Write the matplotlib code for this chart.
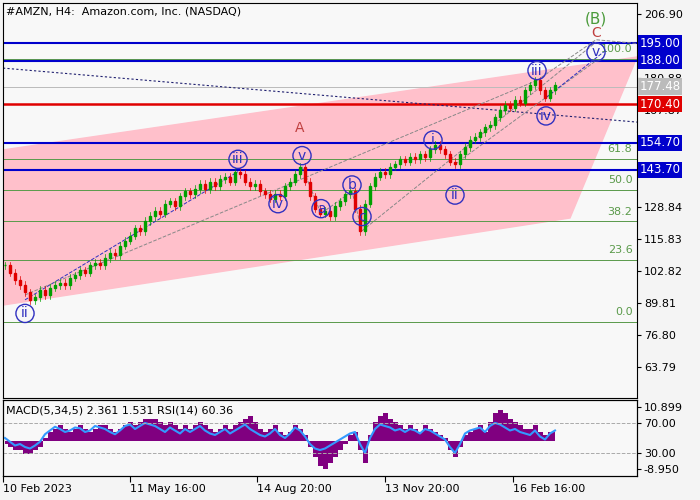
import matplotlib.pyplot as plt
from matplotlib.patches import Polygon, Rectangle

closes = [105, 102, 99, 97, 94, 91, 92, 95, 93, 96, 97, 98, 97, 100, 101, 103, 102, 105, 106, 105,
          108, 110, 109, 113, 115, 117, 120, 119, 123, 125, 127, 126, 130, 131, 129, 133, 135, 134, 136, 138,
          136, 139, 137, 140, 141, 139, 143, 142, 139, 137, 138, 135, 134, 132, 134, 133, 137, 139, 142, 145,
          139, 133, 128, 126, 127, 125, 129, 131, 134, 135, 128, 119, 130, 137, 141, 143, 142, 145, 146, 148,
          147, 149, 148, 150, 149, 152, 154, 152, 150, 147, 146, 150, 153, 156, 157, 159, 161, 162, 165, 168,
          170, 169, 172, 171, 176, 178, 180, 176, 173, 176, 178]
macd = [-1, -2, -3, -3, -4, -4, -3, -2, 1, 3, 4, 5, 4, 3, 4, 5, 4, 3, 4, 5,
        5, 4, 3, 4, 5, 6, 5, 6, 7, 7, 7, 6, 5, 6, 5, 4, 5, 4, 5, 6,
        5, 4, 3, 4, 5, 4, 5, 6, 7, 8, 6, 4, 3, 4, 5, 3, 2, 3, 5, 4,
        2, -2, -5, -8, -9, -7, -5, -3, -1, 2, 3, -3, -7, 2, 6, 8, 9, 7, 6, 5,
        4, 5, 4, 3, 5, 4, 3, 2, 1, -3, -5, -2, 2, 3, 4, 5, 3, 6, 9, 10,
        9, 7, 6, 5, 4, 4, 5, 3, 2, 3, 3]
rsi = [50, 45, 40, 42, 38, 36, 40, 45, 55, 60, 65, 62, 58, 60, 64, 63, 58, 60, 66, 64,
       62, 58, 55, 60, 66, 68, 62, 66, 70, 68, 66, 62, 58, 64, 60, 56, 62, 58, 62, 66,
       60, 56, 54, 58, 62, 56, 60, 64, 68, 62, 58, 54, 52, 56, 62, 54, 50, 56, 64, 60,
       52, 42, 36, 34, 36, 40, 44, 48, 52, 56, 58, 42, 30, 50, 62, 68, 66, 64, 60, 62,
       58, 62, 60, 56, 62, 60, 56, 52, 48, 38, 30, 42, 56, 60, 62, 64, 58, 66, 70, 68,
       64, 60, 62, 58, 56, 54, 60, 52, 48, 56, 60]

blue_levels = [195.00, 188.00, 154.70, 143.70]
red_level = 170.40
last_price = 177.48
fib_pct = [0.0, 23.6, 38.2, 50.0, 61.8, 100.0]
fib_lo, fib_hi = 82.0, 188.8
price_ticks = [206.90, 193.88, 180.88, 167.87, 154.86, 141.85, 128.84, 115.83, 102.82, 89.81, 76.80, 63.79]
date_pos = [-0.4, 25, 50.4, 76, 101.6]
date_labels = ['10 Feb 2023', '11 May 16:00', '14 Aug 20:00', '13 Nov 20:00', '16 Feb 16:00']

# wave labels: (x index, price, text)
waves = [(4, 85.5, 'ii'), (46.6, 148, 'iii'), (54.6, 130, 'iv'), (59.4, 149.5, 'v'),
         (63.2, 128, 'a'), (69.4, 137.6, 'b'), (71.4, 124.8, 'c'), (85.6, 155.8, 'i'),
         (90, 133.5, 'ii'), (106.4, 184.0, 'iii'), (108.2, 165.6, 'iv'), (118.2, 191.5, 'v')]

fig = plt.figure(figsize=(7, 5), dpi=100, facecolor='#f4f4f4')
ax = fig.add_axes([3/700, 1-398/500, 634/700, 395/500], facecolor='#f8f8f8')
ax.set_xlim(-0.4, 126.4)
ax.set_ylim(51.2, 211.4)

ax.add_patch(Polygon([(-0.4, 151.8), (126.4, 189.5), (113, 124.2), (-0.4, 88.9)],
                     closed=True, color='#ffc0cb', zorder=0))

for p in fib_pct:
    v = fib_lo + (fib_hi - fib_lo) * p / 100
    ax.axhline(v, color='#5a9a4a', lw=0.7, zorder=1)
    ax.text(125.5, v + 2, f'{p:.1f}', color='#5a9a4a', fontsize=8, ha='right', va='bottom')
for v in blue_levels:
    ax.axhline(v, color='#0000cc', lw=1.5, zorder=2)
ax.axhline(red_level, color='#e00000', lw=1.8, zorder=2)
ax.axhline(last_price, color='#bbbbbb', lw=0.7, zorder=2)

# trend / wave lines
ax.plot([-0.4, 126.4], [185.0, 163.1], color='#202070', ls=(0, (2, 2)), lw=0.8)
ax.plot([4, 46.6], [91, 143], color='#3030c0', ls='--', lw=0.7)
ax.plot([4, 106.4], [93, 180], color='#888888', ls='--', lw=0.7)
ax.plot([71.4, 118.2], [119, 195.5], color='#888888', ls='--', lw=0.7)
ax.plot([90, 118.2], [146, 188], color='#888888', ls='--', lw=0.7)
ax.plot([108.2, 120], [173, 192], color='#3030c0', ls='--', lw=0.7)
ax.plot([106.4, 118.2, 126.4], [180, 196.5, 195], color='#888888', ls='--', lw=0.7)
ax.plot([59.4, 63.2, 69.4, 71.4], [145, 126, 135, 119], color='#888888', ls='--', lw=0.7)

for i, c in enumerate(closes):
    o = closes[i-1] if i > 0 else c
    col = '#00a000' if c >= o else '#e00000'
    ax.plot([i, i], [min(o, c) - 1.5, max(o, c) + 1.5], color=col, lw=0.5, zorder=3)
    ax.add_patch(Rectangle((i - 0.2, min(o, c)), 0.4, max(abs(c - o), 0.2), color=col, zorder=3))

for x, y, t in waves:
    ax.text(x, y, t, color='#3030c0', fontsize=10, ha='center', va='center', zorder=5,
            bbox=dict(boxstyle='circle,pad=0.15', fc='none', ec='#3030c0', lw=1))
ax.text(59, 159, 'A', color='#c04040', fontsize=10, ha='center')
ax.text(118.2, 197.5, 'C', color='#c04040', fontsize=10, ha='center')
ax.text(118.2, 203, '(B)', color='#4a9a3a', fontsize=11, ha='center')

ax.yaxis.tick_right()
ax.set_yticks(price_ticks)
ax.set_yticklabels([f'{v:.2f}' for v in price_ticks], fontsize=8)
ax.tick_params(axis='y', length=3, pad=2)
ax.set_xticks([])
for v in blue_levels:
    ax.text(126.9, v, f'{v:.2f}', color='white', fontsize=8.5, va='center', zorder=6,
            bbox=dict(boxstyle='square,pad=0.15', fc='#0000cc', ec='none'))
ax.text(126.9, red_level, f'{red_level:.2f}', color='white', fontsize=8.5, va='center', zorder=6,
        bbox=dict(boxstyle='square,pad=0.15', fc='#e00000', ec='none'))
ax.text(126.9, last_price, f'{last_price:.2f}', color='white', fontsize=8.5, va='center', zorder=6,
        bbox=dict(boxstyle='square,pad=0.15', fc='#bbbbbb', ec='none'))
ax.text(0.005, 0.99, '#AMZN, H4:  Amazon.com, Inc. (NASDAQ)', transform=ax.transAxes,
        fontsize=8, va='top')

# indicator panel
ax2 = fig.add_axes([3/700, 1-476/500, 634/700, 76/500], facecolor='#f8f8f8')
ax2.set_xlim(-0.4, 126.4)
ax2.set_ylim(-11.19, 13.14)
ax2.fill_between(range(len(macd)), 0, macd, color='#800080', step='mid', lw=0)
ax2.set_xticks(date_pos)
ax2.set_xticklabels(date_labels, fontsize=8, ha='left')
ax2.tick_params(axis='x', length=4, pad=2)
ax3 = ax2.twinx()
ax3.set_ylim(-0.6, 100.6)
ax3.plot(range(len(rsi)), rsi, color='#3399ff', lw=1.5)
for v in (70, 30):
    ax3.axhline(v, color='#aaaaaa', ls='--', lw=0.7)
ax3.set_yticks([70, 30, 91.3, 8.7])
ax3.set_yticklabels(['70.00', '30.00', '10.899', '-8.950'], fontsize=8)
ax3.tick_params(axis='y', length=3, pad=2)
ax2.set_yticks([])
ax2.text(0.005, 0.93, 'MACD(5,34,5) 2.361 1.531 RSI(14) 60.36', transform=ax2.transAxes,
         fontsize=8, va='top', zorder=5)

fig.savefig('out.png', dpi=100, facecolor=fig.get_facecolor())
